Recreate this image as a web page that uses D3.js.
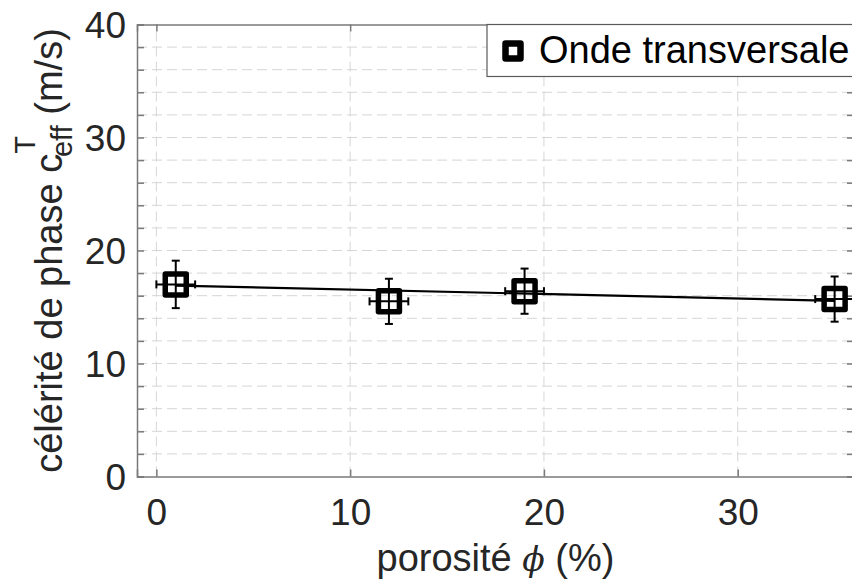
<!DOCTYPE html>
<html>
<head>
<meta charset="utf-8">
<script src="https://cdn.jsdelivr.net/npm/d3@7"></script>
<style>
  html, body { margin: 0; padding: 0; background: #fff; }
  svg { display: block; }
</style>
</head>
<body>
<svg id="chart" width="852" height="581"></svg>
<script>
// ---- data ----
const porosity = [1, 12, 19, 35];          // %
const celerity = [17.0, 15.5, 16.4, 15.7]; // m/s
const errY = [2.1, 2.0, 2.0, 2.0];
const errX = [1, 1, 1, 1];
const fitX = [1, 35];
const fitY = [16.9, 15.55];
const xTicks = [0, 10, 20, 30];
const yTicks = [0, 10, 20, 30, 40];
const yMinorTicks = [0, 2, 4, 6, 8, 10, 12, 14, 16, 18, 20, 22, 24, 26, 28, 30, 32, 34, 36, 38, 40];
const legendLabel = "Onde transversale";

const svg = d3.select("#chart");
const font = "'Liberation Sans', Arial, Helvetica, sans-serif";

const x = d3.scaleLinear().domain([-1, 36]).range([137, 854]);
const y = d3.scaleLinear().domain([0, 40]).range([476.5, 24.5]);

const gridColor = "#d6d6d6";
// grid
const g = svg.append("g");
g.selectAll("line.hg").data(yMinorTicks.filter(d => d > 0 && d < 40)).enter().append("line")
  .attr("x1", x.range()[0]).attr("x2", x.range()[1])
  .attr("y1", d => y(d)).attr("y2", d => y(d))
  .attr("stroke", gridColor).attr("stroke-width", 1).attr("stroke-dasharray", "10,5");
g.selectAll("line.vg").data(xTicks).enter().append("line")
  .attr("y1", y.range()[0]).attr("y2", y.range()[1])
  .attr("x1", d => x(d)).attr("x2", d => x(d))
  .attr("stroke", gridColor).attr("stroke-width", 1).attr("stroke-dasharray", "10,5");

// axes (box)
const axisColor = "#7a7a7a";
const tickLen = 7;
const bottomAxis = d3.axisBottom(x).tickValues(xTicks).tickSize(-tickLen).tickPadding(14).tickFormat(d3.format("d"));
const topAxis = d3.axisTop(x).tickValues(xTicks).tickSize(-tickLen).tickFormat("");
const leftAxis = d3.axisLeft(y).tickValues(yMinorTicks).tickSize(-tickLen).tickPadding(11)
  .tickFormat(d => yTicks.includes(d) ? d3.format("d")(d) : "");
const rightAxis = d3.axisRight(y).tickValues(yMinorTicks).tickSize(-tickLen).tickFormat("");

function styleAxis(sel) {
  sel.select(".domain").attr("stroke", axisColor).attr("stroke-width", 1.5);
  sel.selectAll(".tick line").attr("stroke", axisColor).attr("stroke-width", 1.5);
  sel.selectAll(".tick text").attr("fill", "#262626").style("font-family", font).style("font-size", "37px");
}
const gb = svg.append("g").attr("transform", `translate(0,${y(0)})`).call(bottomAxis).call(styleAxis);
gb.selectAll(".tick text").attr("dy", "0.71em").attr("y", 22);
svg.append("g").attr("transform", `translate(0,${y(40)})`).call(topAxis).call(styleAxis);
const gl = svg.append("g").attr("transform", `translate(${x(-1)},0)`).call(leftAxis).call(styleAxis);
gl.selectAll(".tick text").attr("dy", "0.36em");
svg.append("g").attr("transform", `translate(${x(36)},0)`).call(rightAxis).call(styleAxis);

// fit line
svg.append("path")
  .datum(fitX.map((d, i) => [d, fitY[i]]))
  .attr("d", d3.line().x(d => x(d[0])).y(d => y(d[1])))
  .attr("fill", "none").attr("stroke", "#000").attr("stroke-width", 2.2);

// error bars
const data = porosity.map((p, i) => ({ p, c: celerity[i], ey: errY[i], ex: errX[i] }));
const eb = svg.append("g").attr("stroke", "#000").attr("stroke-width", 2);
const cap = 4;
data.forEach(d => {
  eb.append("line").attr("x1", x(d.p)).attr("x2", x(d.p)).attr("y1", y(d.c - d.ey)).attr("y2", y(d.c + d.ey));
  eb.append("line").attr("x1", x(d.p) - cap).attr("x2", x(d.p) + cap).attr("y1", y(d.c - d.ey)).attr("y2", y(d.c - d.ey));
  eb.append("line").attr("x1", x(d.p) - cap).attr("x2", x(d.p) + cap).attr("y1", y(d.c + d.ey)).attr("y2", y(d.c + d.ey));
  eb.append("line").attr("x1", x(d.p - d.ex)).attr("x2", x(d.p + d.ex)).attr("y1", y(d.c)).attr("y2", y(d.c));
  eb.append("line").attr("x1", x(d.p - d.ex)).attr("x2", x(d.p - d.ex)).attr("y1", y(d.c) - cap).attr("y2", y(d.c) + cap);
  eb.append("line").attr("x1", x(d.p + d.ex)).attr("x2", x(d.p + d.ex)).attr("y1", y(d.c) - cap).attr("y2", y(d.c) + cap);
});

// markers
const ms = 21;
svg.append("g").selectAll("rect").data(data).enter().append("rect")
  .attr("x", d => x(d.p) - ms / 2).attr("y", d => y(d.c) - ms / 2)
  .attr("width", ms).attr("height", ms)
  .attr("fill", "none").attr("stroke", "#000").attr("stroke-width", 5.5)
  .attr("stroke-linejoin", "round");

// legend
const lg = svg.append("g");
lg.append("rect").attr("x", 487).attr("y", 24.5).attr("width", 420).attr("height", 52)
  .attr("fill", "#fff").attr("stroke", "#5a5a5a").attr("stroke-width", 1.2);
lg.append("rect").attr("x", 505.5).attr("y", 43.5).attr("width", 15).attr("height", 15)
  .attr("fill", "none").attr("stroke", "#000").attr("stroke-width", 6.5).attr("stroke-linejoin", "round");
lg.append("text").attr("x", 539).attr("y", 63).text(legendLabel)
  .style("font-family", font).style("font-size", "38px").attr("fill", "#000");

// y label
const yl = svg.append("text")
  .attr("transform", `translate(62,${(y.range()[0] + y.range()[1]) / 2}) rotate(-90)`)
  .attr("text-anchor", "middle").attr("fill", "#262626")
  .style("font-family", font).style("font-size", "38px");
yl.append("tspan").text("célérité de phase c");
yl.append("tspan").attr("dy", -27).style("font-size", "29px").text("T");
yl.append("tspan").attr("dy", 37).attr("dx", -17.7).style("font-size", "29px").text("eff");
yl.append("tspan").attr("dy", -10).text(" (m/s)");

// x label
const xl = svg.append("text")
  .attr("x", (x.range()[0] + x.range()[1]) / 2).attr("y", 571)
  .attr("text-anchor", "middle").attr("fill", "#262626")
  .style("font-family", font).style("font-size", "38px");
xl.append("tspan").text("porosité ");
xl.append("tspan").style("font-family", "'DejaVu Serif', serif").style("font-style", "italic").style("font-size", "33px").text("ϕ");
xl.append("tspan").text(" (%)");
</script>
</body>
</html>
